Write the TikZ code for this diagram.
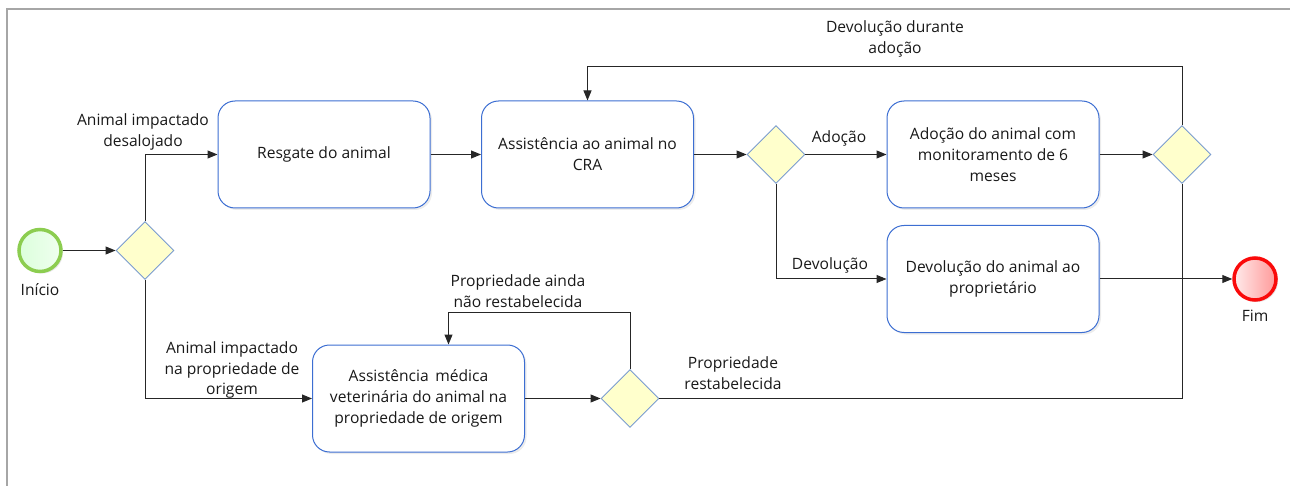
\documentclass[tikz,border=0pt]{standalone}
\usepackage{fontspec}
\setmainfont{Open Sans}
\usetikzlibrary{shapes.geometric}
\usetikzlibrary{arrows.meta}
\usetikzlibrary{shadows}

\definecolor{boxblue}{RGB}{60,110,210}
\definecolor{gateblue}{RGB}{122,156,208}
\definecolor{gateyellow}{RGB}{255,255,204}
\definecolor{startgreen}{RGB}{140,205,80}
\definecolor{endred}{RGB}{250,10,10}

\begin{document}
\begin{tikzpicture}
	[x=1pt, y=-1pt, >={Triangle[length=10pt,width=8pt]},
	txt/.style = {font=\fontsize{15.6}{20.8}\selectfont, text=black!90},
	task/.style = {txt, draw=boxblue, line width=1pt, rounded corners=17pt, fill=white, minimum width=212pt, minimum height=107pt, align=center, drop shadow={opacity=0.15, shadow xshift=2pt, shadow yshift=-2pt}},
	gate/.style = {diamond, draw=gateblue, fill=gateyellow, line width=0.9pt, minimum width=58pt, minimum height=58pt, inner sep=0pt},
	ev/.style = {circle, minimum size=42pt, inner sep=0pt, line width=3.5pt, drop shadow={opacity=0.2, shadow xshift=2pt, shadow yshift=-2pt}},
	lbl/.style = {txt, align=center},
	flow/.style = {draw=black!85, line width=1pt}]
	\useasboundingbox (0,0) rectangle (1290,486);
	\draw[gray!70, line width=2pt] (7,486) -- (7,9) -- (1290,9);
	\node[ev, draw=startgreen, left color=green!14!white, right color=green!6!white] (ini) at (40,250.5) {};
	\node[gate] (g1) at (145,250.5) {};
	\node[task] (resgate) at (324,154.5) {Resgate do animal};
	\node[task] (cra) at (587.5,154.5) {Assistência ao animal no\\CRA};
	\node[gate] (g2) at (776,154.5) {};
	\node[task] (adocao) at (993,154.5) {Adoção do animal com\\monitoramento de 6\\meses};
	\node[gate] (g3) at (1182,154.5) {};
	\node[task] (devol) at (993,279) {Devolução do animal ao\\proprietário};
	\node[ev, draw=endred, left color=red!8!white, right color=red!40!white] (fim) at (1255,279) {};
	\node[task] (medica) at (418.5,398.5) {Assistência\, médica\\veterinária do animal na\\propriedade de origem};
	\node[gate] (g4) at (630,398.5) {};
	\node[lbl] (tini) at (40,290) {Início};
	\node[lbl] (tfim) at (1255,316) {Fim};
	\node[lbl] (tdesal) at (143,132) {Animal impactado\\desalojado};
	\node[lbl] (torig) at (232,370) {Animal impactado\\na propriedade de\\origem};
	\node[lbl] (tadoc) at (839,138) {Adoção};
	\node[lbl] (tdevol) at (830,265) {Devolução};
	\node[lbl] (tdurante) at (895,39) {Devolução durante\\adoção};
	\node[lbl] (tainda) at (518,291) {Propriedade ainda\\não restabelecida};
	\node[lbl] (trest) at (733,373) {Propriedade\\restabelecida};
	\draw[flow, ->] (ini) -- (g1);
	\draw[flow, ->] (g1.north) |- (resgate);
	\draw[flow, ->] (resgate) -- (cra);
	\draw[flow, ->] (cra) -- (g2);
	\draw[flow, ->] (g2) -- (adocao);
	\draw[flow, ->] (adocao) -- (g3);
	\draw[flow, ->] (g3.north) -- ++(0,-59) -| (cra.north);
	\draw[flow, ->] (g2.south) |- (devol);
	\draw[flow, ->] (devol) -- (fim);
	\draw[flow, ->] (g1.south) |- (medica);
	\draw[flow, ->] (medica) -- (g4);
	\draw[flow, ->] (g4.north) -- ++(0,-57) -| ([xshift=30pt]medica.north);
	\draw[flow] (g4.east) -| (g3.south);
\end{tikzpicture}
\end{document}
